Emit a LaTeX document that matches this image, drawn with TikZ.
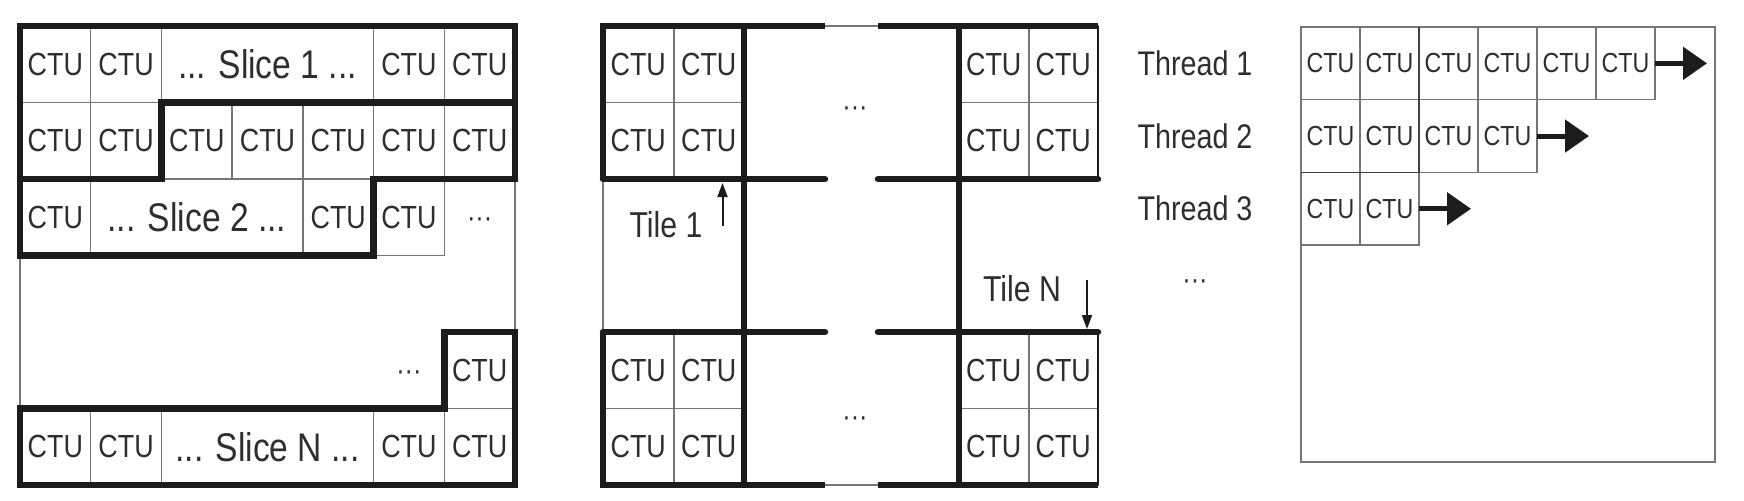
\documentclass[tikz,border=0pt]{standalone}
\usepackage{fontspec}
\setmainfont[FakeStretch=0.84]{Liberation Sans}
\usetikzlibrary{arrows.meta}
\definecolor{ink}{HTML}{2E2E2E}
\definecolor{thinc}{HTML}{767676}
\definecolor{boldc}{HTML}{1C1C1C}
\tikzset{
  thinln/.style={draw=thinc, line width=0.75pt},
  boldln/.style={draw=boldc, line width=3.25pt},
  cellL/.style={thinln, minimum width=35.357pt, minimum height=38.25pt, inner sep=0pt, outer sep=0pt,
                text=ink, font=\fontsize{16}{17}\selectfont},
  wideL/.style={cellL, minimum width=106.07pt},
  slicetxt/.style={font=\fontsize{20}{22}\selectfont},
  cellM/.style={cellL, minimum width=35pt},
  cellR/.style={thinln, minimum width=29.5pt, minimum height=36.35pt, inner sep=0pt, outer sep=0pt,
                text=ink, font=\fontsize{13.8}{15}\selectfont},
  dotstxt/.style={text=ink, inner sep=0pt, font=\fontsize{15}{16}\selectfont},
  labtxt/.style={text=ink, inner sep=0pt, font=\fontsize{18}{20}\selectfont},
  thrtxt/.style={text=ink, inner sep=0pt, font=\fontsize{17.1}{19}\selectfont},
  smallarr/.style={draw=boldc, line width=1pt, -{Triangle[length=7pt,width=5pt]}},
  bigarr/.style={draw=boldc, line width=2.5pt, -{Triangle[length=12pt,width=16pt]}},
}
\begin{document}
\begin{tikzpicture}[x=0.5pt,y=-0.5pt]
\useasboundingbox (0,0) rectangle (1744,500);

% ================= Left panel: slices =================
\draw[thinln] (20,26) rectangle (515,485);
% row 1
\node[cellL] (a11) at (55.36,64.25) {CTU};
\node[cellL] (a12) at (126.07,64.25) {CTU};
\node[wideL,slicetxt] (a1s) at (267.5,64.25) {... Slice 1 ...};
\node[cellL] (a16) at (408.93,64.25) {CTU};
\node[cellL] (a17) at (479.64,64.25) {CTU};
% row 2
\node[cellL] (a21) at (55.36,140.75) {CTU};
\node[cellL] (a22) at (126.07,140.75) {CTU};
\node[cellL] (a23) at (196.79,140.75) {CTU};
\node[cellL] (a24) at (267.5,140.75) {CTU};
\node[cellL] (a25) at (338.21,140.75) {CTU};
\node[cellL] (a26) at (408.93,140.75) {CTU};
\node[cellL] (a27) at (479.64,140.75) {CTU};
% row 3
\node[cellL] (a31) at (55.36,217.25) {CTU};
\node[wideL,slicetxt] (a3s) at (196.79,217.25) {... Slice 2 ...};
\node[cellL] (a35) at (338.21,217.25) {CTU};
\node[cellL] (a36) at (408.93,217.25) {CTU};
\node[dotstxt] (a37) at (479.64,223) {···};
% row 5
\node[dotstxt] (a56) at (408.93,376) {···};
\node[cellL] (a57) at (479.64,370.25) {CTU};
% row 6
\node[cellL] (a61) at (55.36,446.75) {CTU};
\node[cellL] (a62) at (126.07,446.75) {CTU};
\node[wideL,slicetxt] (a6s) at (267.5,446.75) {... Slice N ...};
\node[cellL] (a66) at (408.93,446.75) {CTU};
\node[cellL] (a67) at (479.64,446.75) {CTU};
% slice outlines
\draw[boldln] (20,26) -- (515,26) -- (515,102.5) -- (161.43,102.5) -- (161.43,179) -- (20,179) -- cycle;
\draw[boldln] (161.43,102.5) -- (515,102.5) -- (515,179) -- (373.57,179) -- (373.57,255.5) -- (20,255.5) -- (20,179) -- (161.43,179) -- cycle;
\draw[boldln] (20,408.5) -- (444.29,408.5) -- (444.29,332) -- (515,332) -- (515,485) -- (20,485) -- cycle;

% ================= Middle panel: tiles =================
\node[cellM] (b11) at (638.25,64.25) {CTU};
\node[cellM] (b12) at (708.75,64.25) {CTU};
\node[cellM] (b21) at (638.25,140.75) {CTU};
\node[cellM] (b22) at (708.75,140.75) {CTU};
\node[cellM] (b13) at (993.75,64.25) {CTU};
\node[cellM] (b14) at (1063.25,64.25) {CTU};
\node[cellM] (b23) at (993.75,140.75) {CTU};
\node[cellM] (b24) at (1063.25,140.75) {CTU};
\node[cellM] (b51) at (638.25,370.25) {CTU};
\node[cellM] (b52) at (708.75,370.25) {CTU};
\node[cellM] (b61) at (638.25,446.75) {CTU};
\node[cellM] (b62) at (708.75,446.75) {CTU};
\node[cellM] (b53) at (993.75,370.25) {CTU};
\node[cellM] (b54) at (1063.25,370.25) {CTU};
\node[cellM] (b63) at (993.75,446.75) {CTU};
\node[cellM] (b64) at (1063.25,446.75) {CTU};
\node[dotstxt] (bdt) at (855,112) {···};
\node[dotstxt] (bdb) at (855,422) {···};
% thin connecting lines
\draw[thinln] (825,26) -- (878,26);
\draw[thinln] (825,485) -- (878,485);
\draw[thinln] (603,179) -- (603,332);
% thick tile boundaries
\draw[boldln] (603,179) -- (603,26) -- (825,26);
\draw[boldln] (878,26) -- (1098,26);
\draw[boldln] (603,332) -- (603,485) -- (825,485);
\draw[boldln] (878,485) -- (1098,485);
\draw[boldln, line cap=round] (603,179) -- (825,179);
\draw[boldln, line cap=round] (878,179) -- (1098,179);
\draw[boldln, line cap=round] (603,332) -- (825,332);
\draw[boldln, line cap=round] (878,332) -- (1098,332);
\draw[boldln] (744,26) -- (744,485);
\draw[boldln] (959,26) -- (959,485);
\draw[draw=boldc, line width=1.4pt] (1098,26) -- (1098,179);
\draw[draw=boldc, line width=1.4pt] (1098,332) -- (1098,485);
% labels
\node[labtxt] (t1) at (666,225) {Tile 1};
\node[labtxt] (tn) at (1022,289) {Tile N};
\coordinate (t1a) at (722.5,226);
\coordinate (t1b) at (722.5,183);
\coordinate (tna) at (1087,280);
\coordinate (tnb) at (1087,329);
\draw[smallarr] (t1a) -- (t1b);
\draw[smallarr] (tna) -- (tnb);

% ================= Right panel: wavefront threads =================
\draw[thinln] (1301,27) rectangle (1715,462);
\node[cellR] (c11) at (1330.5,63.35) {CTU};
\node[cellR] (c12) at (1389.5,63.35) {CTU};
\node[cellR] (c13) at (1448.5,63.35) {CTU};
\node[cellR] (c14) at (1507.5,63.35) {CTU};
\node[cellR] (c15) at (1566.5,63.35) {CTU};
\node[cellR] (c16) at (1625.5,63.35) {CTU};
\node[cellR] (c21) at (1330.5,136.05) {CTU};
\node[cellR] (c22) at (1389.5,136.05) {CTU};
\node[cellR] (c23) at (1448.5,136.05) {CTU};
\node[cellR] (c24) at (1507.5,136.05) {CTU};
\node[cellR] (c31) at (1330.5,208.75) {CTU};
\node[cellR] (c32) at (1389.5,208.75) {CTU};
\draw[draw=black!75, line width=0.75pt] (1419,27) -- (1419,172.4) -- (1301,172.4);
\node[thrtxt] (th1) at (1195,63.35) {Thread 1};
\node[thrtxt] (th2) at (1195,136.05) {Thread 2};
\node[thrtxt] (th3) at (1195,208.75) {Thread 3};
\node[dotstxt] (thd) at (1195,285) {···};
\coordinate (e1) at (1707,63.35);
\coordinate (e2) at (1589,136.05);
\coordinate (e3) at (1471,208.75);
\draw[bigarr] (c16.east) -- (e1);
\draw[bigarr] (c24.east) -- (e2);
\draw[bigarr] (c32.east) -- (e3);
\end{tikzpicture}
\end{document}
